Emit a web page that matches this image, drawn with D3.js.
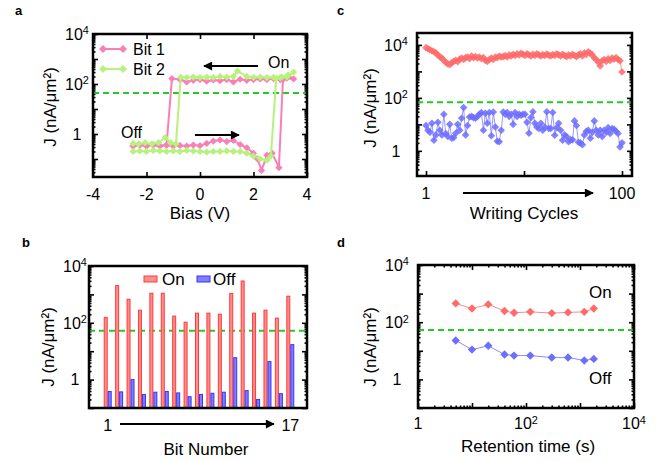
<!DOCTYPE html>
<html>
<head>
<meta charset="utf-8">
<script src="https://cdn.jsdelivr.net/npm/d3@7"></script>
<style>
  body { margin: 0; background: #fff; }
  svg { display: block; font-family: "Liberation Sans", Arial, sans-serif; }
</style>
</head>
<body>
<div id="chart"></div>
<script>
// ---- panel a: J vs bias sweep for two bits, [V, J] in sweep order ----
const bit1 = [
  [-2.5,0.33],[-2.25,0.37],[-2.0,0.34],[-1.75,0.37],[-1.5,0.34],[-1.25,0.36],[-1.0,0.33],[-0.75,0.35],
  [-0.5,0.33],[-0.25,0.36],[0,0.34],[0.25,0.42],[0.5,0.52],[0.75,0.58],[1.0,0.5],[1.25,0.55],
  [1.5,0.38],[1.75,0.28],[2.0,0.17],[2.15,0.1],[2.3,0.035],[2.5,0.14],[2.7,0.17],[2.95,0.045],
  [3.1,150],[3.3,200],[3.5,160],[3.25,170],[3.0,150],[2.75,165],[2.5,150],[2.25,160],[2.0,150],
  [1.75,140],[1.5,155],[1.25,120],[1.0,150],[0.75,135],[0.5,145],[0.25,130],[0,150],[-0.25,140],
  [-0.5,120],[-0.75,150],[-1.05,165],[-1.25,0.36],[-1.5,0.33],[-1.75,0.36],[-2.0,0.33],[-2.25,0.36],[-2.5,0.33]
];
const bit2 = [
  [-2.5,0.2],[-2.25,0.21],[-2.0,0.2],[-1.75,0.22],[-1.5,0.21],[-1.25,0.2],[-1.0,0.21],[-0.75,0.2],
  [-0.5,0.22],[-0.25,0.21],[0,0.2],[0.25,0.19],[0.5,0.2],[0.75,0.2],[1.0,0.21],[1.25,0.2],[1.5,0.2],
  [1.75,0.17],[2.0,0.13],[2.25,0.1],[2.5,0.09],[2.65,0.13],[2.85,170],[3.05,190],[3.3,230],[3.5,300],
  [3.25,190],[3.0,180],[2.75,185],[2.5,180],[2.25,190],[2.0,185],[1.75,200],[1.4,330],[1.25,200],
  [1.0,190],[0.75,200],[0.5,180],[0.25,190],[0,180],[-0.25,190],[-0.5,180],[-0.72,185],[-0.9,0.4],
  [-1.1,0.45],[-1.3,0.72],[-1.55,0.45],[-1.8,0.4],[-2.05,0.45],[-2.3,0.4],[-2.5,0.42]
];

// ---- panel b: on/off current for 17 bits ----
const bitNumbers = [1,2,3,4,5,6,7,8,9,10,11,12,13,14,15,16,17];
const bitOn = [155, 2040, 675, 278, 1100, 1100, 172, 105, 219, 219, 201, 1080, 2970, 219, 278, 146, 865];
const bitOff = [0.38, 0.37, 1.0, 0.30, 0.36, 0.38, 0.34, 0.25, 0.30, 0.33, 0.36, 5.9, 0.41, 0.20, 4.3, 0.32, 17];

// ---- panel c: 100 writing cycles ----
const cycleOn = [
  7900, 7200, 6600, 6000, 5500, 5000, 4200, 3500, 3200, 2600,
  2200, 1900, 1800, 2100, 2400, 2600, 2300, 2900, 3200, 2800,
  3300, 3500, 3000, 3800, 3300, 3600, 3200, 3500, 3000, 3300,
  2600, 2400, 2800, 3200, 2800, 3500, 3300, 3800, 3500, 3600,
  4000, 3500, 4200, 3800, 4400, 4000, 4600, 4200, 4800, 4400,
  4000, 4600, 4200, 3800, 4400, 4000, 4600, 4200, 3800, 4300,
  4000, 4500, 4100, 3800, 4300, 4000, 4600, 4200, 3800, 4400,
  4000, 3600, 4200, 3800, 4400, 4000, 3600, 4200, 4600, 3800,
  5000, 4400, 5500, 4800, 4200, 3200, 2800, 2200, 1600, 2500,
  2800, 2400, 3000, 2600, 3200, 2900, 3300, 2800, 2500, 950
];
const cycleOff = [
  9, 6, 5, 11, 2.5, 4, 12, 6, 4, 24,
  4.5, 3.5, 10, 3, 3.2, 4.6, 10, 6, 17, 43,
  4, 9, 19, 20, 18, 17, 20, 24, 28, 6,
  26, 11, 28, 3.7, 29, 8, 2.3, 2.2, 6, 29,
  24, 28, 20, 24, 10, 28, 20, 24, 22, 24,
  24, 12, 4.6, 18, 30, 11, 8, 7, 11, 6,
  8, 30, 7, 7, 28, 3.9, 7.5, 11, 6, 2.5,
  4, 3.5, 2.2, 2.6, 2.6, 13.5, 9, 2.1, 2.0, 1.7,
  4, 5.5, 6, 3, 5, 13.5, 6, 4, 6, 3.5,
  6, 5, 7.5, 4.5, 7, 6.5, 5.5, 4.5, 1.4, 2.0
];

// ---- panel d: retention ----
const retTime = [5, 10, 20, 40, 60, 120, 300, 600, 1200, 1800];
const retOn = [455, 300, 420, 245, 213, 230, 208, 220, 230, 300];
const retOff = [23, 11, 15, 7.4, 6.8, 6.8, 5.8, 5.8, 4.6, 5.2];

// read-out threshold (green dashed line) per panel
const thresholds = { a: 44, b: 53, c: 68, d: 53 };

const pink = '#fa7fb6', lime = '#b6f27c', red = '#ff6b6b', blue = '#6d6dff', green = '#22cc22';

const svg = d3.select('#chart').append('svg')
  .attr('width', 665).attr('height', 461);

// arrowhead marker
svg.append('defs').append('marker')
  .attr('id', 'arrow')
  .attr('viewBox', '0 0 10 10')
  .attr('refX', 9).attr('refY', 5)
  .attr('markerUnits', 'userSpaceOnUse')
  .attr('markerWidth', 11).attr('markerHeight', 9)
  .attr('orient', 'auto')
  .append('path').attr('d', 'M0,0 L10,5 L0,10 Z').attr('fill', '#000');

const diamond = r => `M0,${-r}L${r},0L0,${r}L${-r},0Z`;

// major decades and 2..9 minors inside [lo, hi] (log10 units)
function logTicks(lo, hi) {
  const major = [], minor = [];
  for (let e = Math.floor(lo); e <= Math.ceil(hi); e++) {
    const v = Math.pow(10, e);
    if (e >= lo - 1e-6 && e <= hi + 1e-6) major.push(v);
    for (let k = 2; k < 10; k++) {
      const lm = Math.log10(k * v);
      if (lm > lo && lm < hi) minor.push(k * v);
    }
  }
  return { major, minor };
}

function tickGroup(axis, translate) {
  svg.append('g')
    .attr('transform', translate)
    .call(axis.tickFormat(''))
    .call(g => g.select('.domain').remove())
    .selectAll('line').attr('stroke', '#000').attr('stroke-width', 1.6);
}

// "10^n" label with superscript, or "1"
function powLabel(sel, d) {
  const e = Math.round(Math.log10(d));
  if (e === 0) { sel.text('1'); return; }
  sel.append('tspan').text('10');
  sel.append('tspan').attr('dy', '-0.5em').attr('font-size', '0.68em').text(e);
}

function yLogAxis(y, x0, x1, labelX) {
  const [lo, hi] = y.domain().map(Math.log10);
  const t = logTicks(lo, hi);
  tickGroup(d3.axisLeft(y).tickValues(t.major).tickSize(-5), `translate(${x0},0)`);
  tickGroup(d3.axisLeft(y).tickValues(t.minor).tickSize(-2.5), `translate(${x0},0)`);
  tickGroup(d3.axisRight(y).tickValues(t.major).tickSize(-5), `translate(${x1},0)`);
  tickGroup(d3.axisRight(y).tickValues(t.minor).tickSize(-2.5), `translate(${x1},0)`);
  svg.append('g').selectAll('text')
    .data([1, 1e2, 1e4])
    .join('text')
    .attr('x', labelX)
    .attr('y', d => y(d))
    .attr('dy', '0.36em')
    .attr('text-anchor', 'middle')
    .attr('font-size', 16)
    .each(function(d) { powLabel(d3.select(this), d); });
}

function frame(x0, x1, y0, y1) {
  svg.append('rect')
    .attr('x', x0).attr('y', y0)
    .attr('width', x1 - x0).attr('height', y1 - y0)
    .attr('fill', 'none').attr('stroke', '#000').attr('stroke-width', 2.5);
}

function text(x, y, str, opts = {}) {
  return svg.append('text')
    .attr('x', x).attr('y', y)
    .attr('text-anchor', opts.anchor || 'start')
    .attr('font-size', opts.size || 16)
    .attr('font-weight', opts.weight || 'normal')
    .text(str);
}

function yTitle(x, y) {
  svg.append('text')
    .attr('transform', `translate(${x},${y}) rotate(-90)`)
    .attr('text-anchor', 'middle')
    .attr('font-size', 17)
    .text('J (nA/μm²)');
}

function arrow(x1, y1, x2, y2) {
  svg.append('line')
    .attr('x1', x1).attr('y1', y1).attr('x2', x2).attr('y2', y2)
    .attr('stroke', '#000').attr('stroke-width', 2)
    .attr('marker-end', 'url(#arrow)');
}

function threshold(x, y, v) {
  svg.append('line')
    .attr('x1', x.range()[0]).attr('x2', x.range()[1])
    .attr('y1', y(v)).attr('y2', y(v))
    .attr('stroke', green).attr('stroke-width', 2)
    .attr('stroke-dasharray', '6,4');
}

// ================= panel a =================
{
  const x = d3.scaleLinear().domain([-4, 4]).range([93, 307]);
  const y = d3.scaleLog().domain([Math.pow(10, -1.72), 1e4]).range([177, 34]);

  yLogAxis(y, 93, 307, 77);
  const xt = [-4, -2, 0, 2, 4];
  tickGroup(d3.axisBottom(x).tickValues(xt).tickSize(-5), 'translate(0,177)');
  tickGroup(d3.axisTop(x).tickValues(xt).tickSize(-5), 'translate(0,34)');
  svg.append('g').selectAll('text').data(xt).join('text')
    .attr('x', d => x(d)).attr('y', 200)
    .attr('text-anchor', 'middle').attr('font-size', 16)
    .text(d => d < 0 ? '-' + Math.abs(d) : d);

  threshold(x, y, thresholds.a);

  const line = d3.line().x(d => x(d[0])).y(d => y(d[1]));
  [[bit1, pink], [bit2, lime]].forEach(([data, col]) => {
    svg.append('path').datum(data)
      .attr('d', line).attr('fill', 'none')
      .attr('stroke', col).attr('stroke-width', 2);
    svg.append('g').selectAll('path').data(data).join('path')
      .attr('transform', d => `translate(${x(d[0])},${y(d[1])})`)
      .attr('d', diamond(3.6)).attr('fill', col);
  });

  // legend
  [['Bit 1', pink, 49], ['Bit 2', lime, 69]].forEach(([lab, col, ly]) => {
    svg.append('line').attr('x1', 101).attr('x2', 125).attr('y1', ly).attr('y2', ly)
      .attr('stroke', col).attr('stroke-width', 2);
    [103, 123].forEach(px => svg.append('path')
      .attr('transform', `translate(${px},${ly})`).attr('d', diamond(4)).attr('fill', col));
    text(133, ly + 6, lab);
  });

  text(268, 68, 'On');
  arrow(258, 66, 204, 66);
  text(121, 138, 'Off');
  arrow(195, 135, 239, 135);

  frame(93, 307, 34, 177);
  text(200, 219, 'Bias (V)', { anchor: 'middle', size: 17 });
  yTitle(56, 107);
  text(15, 15, 'a', { size: 13, weight: 'bold' });
}

// ================= panel b =================
{
  const x = d3.scaleBand().domain(bitNumbers).range([102, 296]).paddingInner(0.3).paddingOuter(0.15);
  const sub = d3.scaleBand().domain(['on', 'off']).range([0, x.bandwidth()]);
  const y = d3.scaleLog().domain([0.1, 1e4]).range([408, 266]);

  yLogAxis(y, 89, 307, 75);
  threshold(d3.scaleLinear().range([89, 307]), y, thresholds.b);

  const rows = bitNumbers.map((b, i) => ({ b, on: bitOn[i], off: bitOff[i] }));
  [['on', '#ff8e8e', '#ff3a3a'], ['off', '#7f7fff', '#3434ff']].forEach(([k, fill, edge]) => {
    svg.append('g').selectAll('rect').data(rows).join('rect')
      .attr('x', d => x(d.b) + sub(k) + 0.5)
      .attr('width', sub.bandwidth() - 1)
      .attr('y', d => y(d[k]))
      .attr('height', d => 408 - y(d[k]))
      .attr('fill', fill).attr('stroke', edge).attr('stroke-width', 1);
  });

  // legend
  svg.append('rect').attr('x', 144).attr('y', 276).attr('width', 13).attr('height', 6)
    .attr('fill', '#ff8e8e').attr('stroke', '#ff3a3a');
  text(162, 285, 'On', { size: 17 });
  svg.append('rect').attr('x', 197).attr('y', 276).attr('width', 13).attr('height', 6)
    .attr('fill', '#7f7fff').attr('stroke', '#3434ff');
  text(213, 285, 'Off', { size: 17 });

  frame(89, 307, 266, 408);
  text(x(1) + x.bandwidth() / 2, 431, '1', { anchor: 'middle' });
  text(x(17) + x.bandwidth() / 2, 431, '17', { anchor: 'middle' });
  arrow(120, 424, 274, 424);
  text(206, 455, 'Bit Number', { anchor: 'middle', size: 17 });
  yTitle(54, 347);
  text(22, 247, 'b', { size: 13, weight: 'bold' });
}

// ================= panel c =================
{
  const x = d3.scaleLinear().domain([-3.55, 105.05]).range([417, 632]);
  const y = d3.scaleLog().domain([Math.pow(10, -0.95), Math.pow(10, 4.45)]).range([176, 33]);

  yLogAxis(y, 417, 632, 396);
  const xt = [1, 50.5, 100];
  tickGroup(d3.axisBottom(x).tickValues(xt).tickSize(-5), 'translate(0,176)');
  threshold(x, y, thresholds.c);

  const line = d3.line().x((d, i) => x(i + 1)).y(d => y(d));
  [[cycleOn, red], [cycleOff, blue]].forEach(([data, col]) => {
    svg.append('path').datum(data)
      .attr('d', line).attr('fill', 'none')
      .attr('stroke', col).attr('stroke-width', 1).attr('stroke-opacity', 0.7);
    svg.append('g').selectAll('path').data(data).join('path')
      .attr('transform', (d, i) => `translate(${x(i + 1)},${y(d)})`)
      .attr('d', diamond(3.8)).attr('fill', col).attr('fill-opacity', 0.85);
  });

  frame(417, 632, 33, 176);
  text(x(1), 199, '1', { anchor: 'middle' });
  text(x(100), 199, '100', { anchor: 'middle' });
  arrow(463, 193, 593, 193);
  text(524, 219, 'Writing Cycles', { anchor: 'middle', size: 17 });
  yTitle(376, 108);
  text(337, 15, 'c', { size: 13, weight: 'bold' });
}

// ================= panel d =================
{
  const x = d3.scaleLog().domain([1, 1e4]).range([418, 634]);
  const y = d3.scaleLog().domain([0.1, 1e4]).range([408, 265]);

  yLogAxis(y, 418, 634, 397);
  const t = logTicks(0, 4);
  tickGroup(d3.axisBottom(x).tickValues(t.major).tickSize(-5), 'translate(0,408)');
  tickGroup(d3.axisBottom(x).tickValues(t.minor).tickSize(-2.5), 'translate(0,408)');
  tickGroup(d3.axisTop(x).tickValues(t.major).tickSize(-5), 'translate(0,265)');
  tickGroup(d3.axisTop(x).tickValues(t.minor).tickSize(-2.5), 'translate(0,265)');
  svg.append('g').selectAll('text').data([1, 1e2, 1e4]).join('text')
    .attr('x', d => x(d)).attr('y', 429)
    .attr('text-anchor', 'middle').attr('font-size', 16)
    .each(function(d) { powLabel(d3.select(this), d); });

  threshold(x, y, thresholds.d);

  const line = d3.line().x(d => x(d[0])).y(d => y(d[1]));
  [[retOn, red], [retOff, blue]].forEach(([vals, col]) => {
    const data = retTime.map((tt, i) => [tt, vals[i]]);
    svg.append('path').datum(data)
      .attr('d', line).attr('fill', 'none')
      .attr('stroke', col).attr('stroke-width', 1).attr('stroke-opacity', 0.8);
    svg.append('g').selectAll('path').data(data).join('path')
      .attr('transform', d => `translate(${x(d[0])},${y(d[1])})`)
      .attr('d', diamond(4.2)).attr('fill', col);
  });

  text(589, 298, 'On', { size: 17 });
  text(589, 384, 'Off', { size: 17 });

  frame(418, 634, 265, 408);
  text(528, 452, 'Retention time (s)', { anchor: 'middle', size: 17 });
  yTitle(376, 347);
  text(337, 247, 'd', { size: 13, weight: 'bold' });
}
</script>
</body>
</html>
